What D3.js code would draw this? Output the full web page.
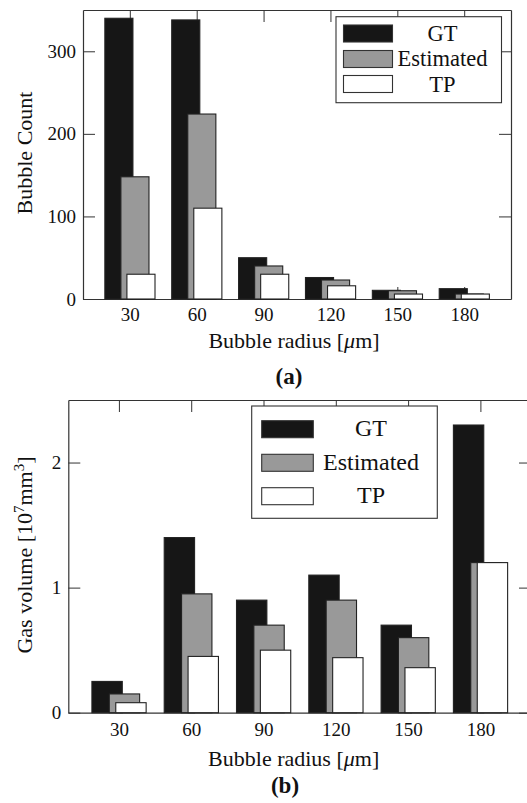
<!DOCTYPE html>
<html>
<head>
<meta charset="utf-8">
<script src="https://cdn.jsdelivr.net/npm/d3@7"></script>
<style>
  body { margin: 0; background: #fff; }
  svg { display: block; font-family: 'Liberation Serif', 'Times New Roman', serif; }
</style>
</head>
<body>
<script>
// radii on the x axis, shared by both panels
const radii = [30, 60, 90, 120, 150, 180];
const seriesNames = ['GT', 'Estimated', 'TP'];

// panel (a): bubble count
const countGT = [340, 338, 50, 26, 10.5, 12.5];
const countEstimated = [148, 224, 40, 23, 10, 6];
const countTP = [30, 110, 30, 16, 6, 6];
const countTicks = [0, 100, 200, 300];

// panel (b): gas volume in 10^7 mm^3
const volumeGT = [0.25, 1.4, 0.9, 1.1, 0.7, 2.3];
const volumeEstimated = [0.15, 0.95, 0.7, 0.9, 0.6, 1.2];
const volumeTP = [0.08, 0.45, 0.5, 0.44, 0.36, 1.2];
const volumeTicks = [0, 1, 2];

const fills = ['#161616', '#999999', '#ffffff'];
// bar width and left offset of each series, in x data units
const barWidth = 12.6;
const barOffsets = [-11.2, -4, -1.3];

const svg = d3
  .select('body')
  .append('svg')
  .attr('width', 527)
  .attr('height', 803);

function drawPanel(opts) {
  const x = d3.scaleLinear().domain([9, 201]).range([opts.left, opts.right]);
  const y = d3.scaleLinear().domain([0, opts.yMax]).range([opts.bottom, opts.top]);
  const g = svg.append('g');

  // axes with inward ticks on all four sides
  const frame = (sel) => {
    sel.attr('font-family', 'Liberation Serif').attr('font-size', 19);
    sel.selectAll('.domain').attr('stroke', '#333').attr('stroke-width', 1.2);
    sel.selectAll('.tick line').attr('stroke', '#333').attr('stroke-width', 1);
    sel.selectAll('.tick text').attr('fill', '#111');
  };
  g.append('g')
    .attr('transform', `translate(0,${opts.bottom})`)
    .call(d3.axisBottom(x).tickValues(radii).tickSize(-12).tickSizeOuter(0).tickPadding(opts.xPad))
    .call(frame);
  g.append('g')
    .attr('transform', `translate(0,${opts.top})`)
    .call(d3.axisTop(x).tickValues(radii).tickSize(-12).tickSizeOuter(0).tickFormat(''))
    .call(frame);
  g.append('g')
    .attr('transform', `translate(${opts.left},0)`)
    .call(d3.axisLeft(y).tickValues(opts.ticks).tickSize(-12).tickSizeOuter(0)
      .tickPadding(7).tickFormat(d3.format('~g')))
    .call(frame);
  g.append('g')
    .attr('transform', `translate(${opts.right},0)`)
    .call(d3.axisRight(y).tickValues(opts.ticks).tickSize(-12).tickSizeOuter(0).tickFormat(''))
    .call(frame);

  // bars: GT first, then Estimated, then TP on top
  opts.series.forEach((values, s) => {
    g.append('g')
      .selectAll('rect')
      .data(values.map((v, i) => ({ r: radii[i], v })))
      .join('rect')
      .attr('x', (d) => x(d.r + barOffsets[s]))
      .attr('y', (d) => y(d.v))
      .attr('width', x(barWidth) - x(0))
      .attr('height', (d) => y(0) - y(d.v))
      .attr('fill', fills[s])
      .attr('stroke', '#222')
      .attr('stroke-width', 1.1);
  });

  // legend
  const lg = opts.legend;
  g.append('rect')
    .attr('x', lg.x).attr('y', lg.y).attr('width', lg.w).attr('height', lg.h)
    .attr('fill', '#fff').attr('stroke', '#333').attr('stroke-width', 1.1);
  seriesNames.forEach((name, s) => {
    g.append('rect')
      .attr('x', lg.swX).attr('y', lg.swY[s]).attr('width', lg.swW).attr('height', lg.swH)
      .attr('fill', fills[s]).attr('stroke', '#333').attr('stroke-width', 1.1);
    g.append('text')
      .attr('x', lg.textX).attr('y', lg.textY[s])
      .attr('text-anchor', 'middle')
      .style('font-size', lg.fontSize + 'px')
      .attr('fill', '#111')
      .text(name);
  });

  // x axis title
  const xt = g.append('text')
    .attr('x', opts.xTitleX).attr('y', opts.xTitleY)
    .attr('text-anchor', 'middle')
    .style('font-size', '22px')
    .attr('fill', '#111');
  xt.append('tspan').text('Bubble radius [');
  xt.append('tspan').style('font-style', 'italic').text('\u03bc');
  xt.append('tspan').text('m]');

  // y axis title
  const yt = g.append('text')
    .attr('transform', `translate(32,${opts.yTitleY}) rotate(-90)`)
    .attr('text-anchor', 'middle')
    .style('font-size', '22px')
    .attr('fill', '#111');
  opts.yTitle(yt);

  // panel caption
  g.append('text')
    .attr('x', opts.capX).attr('y', opts.capY)
    .attr('text-anchor', 'middle')
    .style('font-size', '23px')
    .style('font-weight', 'bold')
    .attr('fill', '#111')
    .text(opts.caption);
}

drawPanel({
  left: 83, right: 511, top: 10, bottom: 299,
  yMax: 350, ticks: countTicks, xPad: 9,
  series: [countGT, countEstimated, countTP],
  legend: {
    x: 336, y: 16.7, w: 165.5, h: 86,
    swX: 343.5, swW: 49, swH: 17, swY: [25, 50.5, 75.5],
    textX: 442.5, textY: [40.7, 66, 91.7], fontSize: 22.5
  },
  xTitleX: 294, xTitleY: 348,
  yTitleY: 153,
  yTitle: (t) => t.text('Bubble Count'),
  caption: '(a)', capX: 289, capY: 384
});

drawPanel({
  left: 68.3, right: 531, top: 400, bottom: 712.7,
  yMax: 2.5, ticks: volumeTicks, xPad: 10,
  series: [volumeGT, volumeEstimated, volumeTP],
  legend: {
    x: 251.7, y: 406, w: 185.6, h: 112.3,
    swX: 261.7, swW: 51.6, swH: 17, swY: [420.7, 454.3, 487.7],
    textX: 371, textY: [435.7, 470, 502.7], fontSize: 24
  },
  xTitleX: 293.7, xTitleY: 766,
  yTitleY: 555,
  yTitle: (t) => {
    t.append('tspan').text('Gas volume [10');
    t.append('tspan').attr('dy', -8).style('font-size', '15px').text('7');
    t.append('tspan').attr('dy', 8).text('mm');
    t.append('tspan').attr('dy', -8).style('font-size', '15px').text('3');
    t.append('tspan').attr('dy', 8).text(']');
  },
  caption: '(b)', capX: 285, capY: 793
});
</script>
</body>
</html>
